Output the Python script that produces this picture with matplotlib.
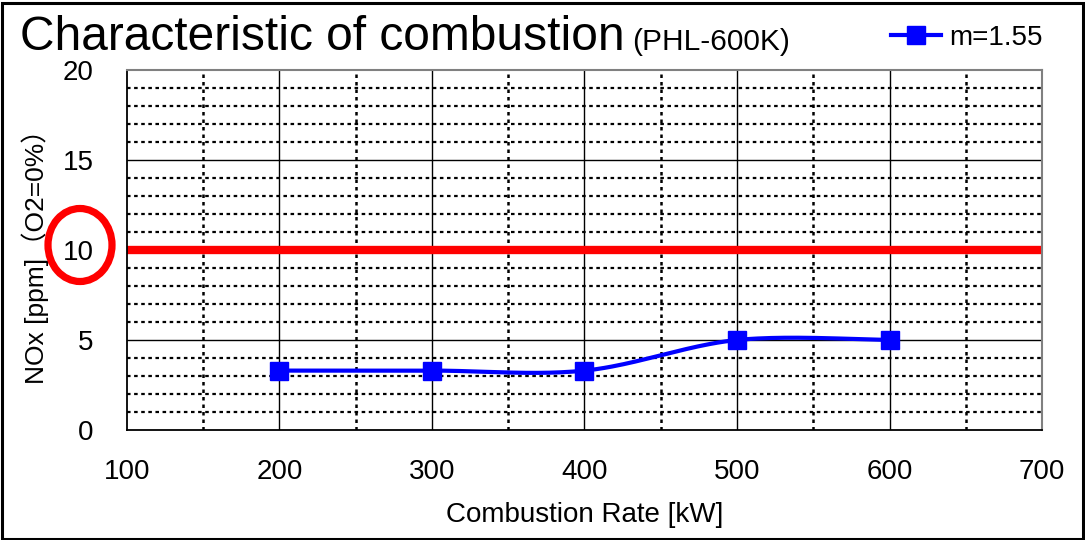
import numpy as np
import matplotlib
matplotlib.use("Agg")
import matplotlib.pyplot as plt
from matplotlib.patches import Ellipse, Rectangle

plt.rcParams['font.family'] = ['Liberation Sans', 'Noto Sans CJK JP', 'DejaVu Sans']

# Measured NOx at each combustion rate
rate_kw = [200, 300, 400, 500, 600]
nox_ppm = [3.3, 3.3, 3.3, 5.0, 5.0]
series_label = "m=1.55"
limit_ppm = 10

x_ticks = [100, 200, 300, 400, 500, 600, 700]
y_ticks = [0, 5, 10, 15, 20]


def smooth_curve(xs, ys, n=40):
    """Piecewise cubic Bezier through the points (cardinal spline)."""
    p = np.column_stack([xs, ys]).astype(float)
    ext = np.vstack([p[0], p, p[-1]])
    out = []
    t = np.linspace(0, 1, n)[:, None]
    for i in range(len(p) - 1):
        p0, p1, p2, p3 = ext[i], ext[i + 1], ext[i + 2], ext[i + 3]
        c1 = p1 + (p2 - p0) / 6.0
        c2 = p2 - (p3 - p1) / 6.0
        seg = ((1 - t) ** 3) * p1 + 3 * ((1 - t) ** 2) * t * c1 + 3 * (1 - t) * t ** 2 * c2 + t ** 3 * p2
        out.append(seg if i == 0 else seg[1:])
    seg = np.vstack(out)
    return seg[:, 0], seg[:, 1]


fig = plt.figure(figsize=(10.85, 5.4), dpi=100)
ax = fig.add_axes([0.117, 0.2037, 0.8434, 0.6667])

ax.set_xlim(100, 700)
ax.set_ylim(0, 20)

# grid: solid majors, dotted minors
for v in range(5, 20, 5):
    ax.axhline(v, color='black', lw=1.0, zorder=1)
for v in range(1, 20):
    if v % 5:
        ax.axhline(v, color='black', lw=1.6, ls=(0, (1.6, 1.6)), zorder=1)
for v in range(200, 700, 100):
    ax.axvline(v, color='black', lw=1.0, zorder=1)
for v in range(150, 700, 100):
    ax.axvline(v, color='black', lw=1.8, ls=(0, (1.4, 1.6)), zorder=1)

# regulatory limit
ax.axhline(limit_ppm, color='#ff0000', lw=6, zorder=2)

sx, sy = smooth_curve(rate_kw, nox_ppm)
ax.plot(sx, sy, color='#0000ff', lw=3, zorder=3, solid_capstyle='round')
ax.plot(rate_kw, nox_ppm, ls='none', marker='s', ms=13, color='#0000ff', zorder=4)
ax.plot([], [], color='#0000ff', lw=3, marker='s', ms=13, label=series_label)

ax.set_xticks(x_ticks)
ax.set_yticks(y_ticks)
ax.tick_params(length=0, labelsize=20)
ax.tick_params(axis='x', pad=21)
ax.tick_params(axis='y', pad=24)

for s in ['left', 'bottom']:
    ax.spines[s].set_color('black')
    ax.spines[s].set_linewidth(1.3)
for s in ['top', 'right']:
    ax.spines[s].set_color('#808080')
    ax.spines[s].set_linewidth(1.5)

ax.set_xlabel("Combustion Rate [kW]", fontsize=20, labelpad=12)
ax.set_ylabel("NOx [ppm]（O2=0%）", fontsize=19, labelpad=10)

fig.text(0.018, 0.907, "Characteristic of combustion", fontsize=34.5, ha='left', va='baseline')
fig.text(0.583, 0.907, "(PHL-600K)", fontsize=21.5, ha='left', va='baseline')

ax.legend(loc='center left', bbox_to_anchor=(0.808, 0.93), bbox_transform=fig.transFigure,
          frameon=False, fontsize=20, handlelength=1.8, handletextpad=0.3, borderpad=0)

# highlight the limit value on the axis
fig.patches.append(Ellipse((0.80, 2.95), 0.64, 0.73, transform=fig.dpi_scale_trans,
                           fill=False, edgecolor='#ff0000', lw=5.2))

# outer frame
fig.patches.append(Rectangle((0.002, 0.002), 0.996, 0.993, transform=fig.transFigure,
                             fill=False, edgecolor='black', lw=2.2))

fig.savefig("out.png", dpi=100)
